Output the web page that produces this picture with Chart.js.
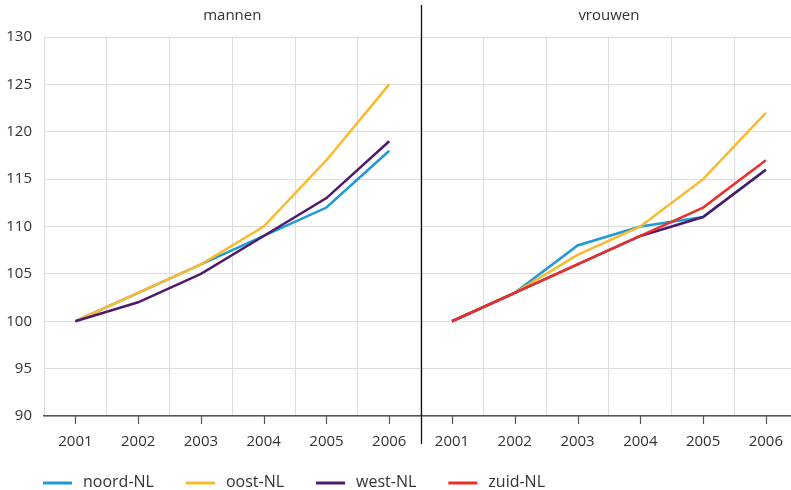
<!DOCTYPE html>
<html>
<head>
<meta charset="utf-8">
<script src="https://cdn.jsdelivr.net/npm/chart.js@4/dist/chart.umd.min.js"></script>
<style>
  html, body { margin: 0; padding: 0; background: #fff; overflow: hidden; }
  #wrap { width: 791px; height: 490px; overflow: hidden; }
</style>
</head>
<body>
<div id="wrap"><canvas id="chart" width="800" height="490"></canvas></div>
<script>
// years per panel, both panels share one category axis
var years = ['2001', '2002', '2003', '2004', '2005', '2006'];
var panels = ['mannen', 'vrouwen'];

// index values (2001 = 100)
var noordMannen = [100, 103, 106, 109, 112, 118];
var noordVrouwen = [100, 103, 108, 110, 111, 116];
var oostMannen = [100, 103, 106, 110, 117, 125];
var oostVrouwen = [100, 103, 107, 110, 115, 122];
var westMannen = [100, 102, 105, 109, 113, 119];
var westVrouwen = [100, 103, 106, 109, 111, 116];
var zuidMannen = [null, null, null, null, null, null];
var zuidVrouwen = [100, 103, 106, 109, 112, 117];

var yTicks = [90, 95, 100, 105, 110, 115, 120, 125, 130];

var textColor = '#333333';
var gridColor = '#dddddd';
var fontFamily = "'Open Sans', 'Noto Sans', sans-serif";

// don't draw the segment that jumps from the mannen panel to the vrouwen panel
var panelGap = {
    borderColor: function (ctx) {
        return ctx.p0DataIndex === years.length - 1 ? 'rgba(0,0,0,0)' : undefined;
    }
};

function makeSet(label, color, mannen, vrouwen, order) {
    return {
        label: label,
        data: mannen.concat(vrouwen),
        borderColor: color,
        backgroundColor: color,
        borderWidth: 2.5,
        pointRadius: 0,
        pointHoverRadius: 0,
        tension: 0,
        spanGaps: false,
        order: order,
        segment: panelGap
    };
}

// titles, divider, tick marks under each year and the legend row
var panelPlugin = {
    id: 'panels',
    afterDraw: function (chart) {
        var ctx = chart.ctx;
        var x = chart.scales.x;
        var area = chart.chartArea;
        var n = years.length;

        ctx.save();
        ctx.fillStyle = textColor;
        ctx.font = '15px ' + fontFamily;
        ctx.textAlign = 'center';
        ctx.textBaseline = 'middle';
        panels.forEach(function (name, p) {
            var cx = (x.getPixelForValue(p * n) + x.getPixelForValue(p * n + n - 1)) / 2;
            ctx.fillText(name, cx, 16);
        });

        // small tick marks at the year positions
        ctx.strokeStyle = '#555555';
        ctx.lineWidth = 1.2;
        for (var i = 0; i < n * 2; i++) {
            var px = Math.round(x.getPixelForValue(i)) + 0.5;
            ctx.beginPath();
            ctx.moveTo(px, area.bottom);
            ctx.lineTo(px, area.bottom + 8);
            ctx.stroke();
        }

        // vertical divider between the panels
        var dx = Math.round((x.getPixelForValue(n - 1) + x.getPixelForValue(n)) / 2) + 0.5;
        ctx.strokeStyle = '#111111';
        ctx.lineWidth = 1.3;
        ctx.beginPath();
        ctx.moveTo(dx, 5);
        ctx.lineTo(dx, 444);
        ctx.stroke();

        // legend
        var lx = area.left - 1;
        var ly = 483;
        ctx.textAlign = 'left';
        ctx.font = '16px ' + fontFamily;
        chart.data.datasets.forEach(function (ds) {
            ctx.strokeStyle = ds.borderColor;
            ctx.lineWidth = 3;
            ctx.beginPath();
            ctx.moveTo(lx, ly);
            ctx.lineTo(lx + 29, ly);
            ctx.stroke();
            ctx.fillStyle = textColor;
            ctx.fillText(ds.label, lx + 40, ly - 1);
            lx += 40 + ctx.measureText(ds.label).width + 32;
        });
        ctx.restore();
    }
};

var chart = new Chart(document.getElementById('chart'), {
    type: 'line',
    data: {
        labels: years.concat(years),
        datasets: [
            makeSet('noord-NL', '#1f9ad6', noordMannen, noordVrouwen, 4),
            makeSet('oost-NL', '#fbb92f', oostMannen, oostVrouwen, 3),
            makeSet('west-NL', '#4f1a6c', westMannen, westVrouwen, 2),
            makeSet('zuid-NL', '#e8312d', zuidMannen, zuidVrouwen, 1)
        ]
    },
    options: {
        responsive: false,
        devicePixelRatio: 1,
        animation: false,
        layout: { padding: { top: 37, right: 0, bottom: 0, left: 0 } },
        scales: {
            x: {
                type: 'category',
                offset: true,
                grid: { offset: true, color: gridColor, lineWidth: 1, drawTicks: false },
                border: { display: true, color: '#555555', width: 1.5 },
                ticks: {
                    color: textColor,
                    font: { family: fontFamily, size: 15 },
                    padding: 17,
                    maxRotation: 0,
                    autoSkip: false
                },
                afterFit: function (scale) { scale.height = 74; }
            },
            y: {
                min: 90,
                max: 130,
                afterBuildTicks: function (scale) {
                    scale.ticks = yTicks.map(function (v) { return { value: v }; });
                },
                grid: { color: gridColor, lineWidth: 1, drawTicks: false },
                border: { display: false },
                ticks: {
                    color: textColor,
                    font: { family: fontFamily, size: 15 },
                    padding: 12
                },
                afterFit: function (scale) { scale.width = 44; }
            }
        },
        plugins: {
            legend: { display: false },
            tooltip: { enabled: false }
        }
    },
    plugins: [panelPlugin]
});
</script>
</body>
</html>
